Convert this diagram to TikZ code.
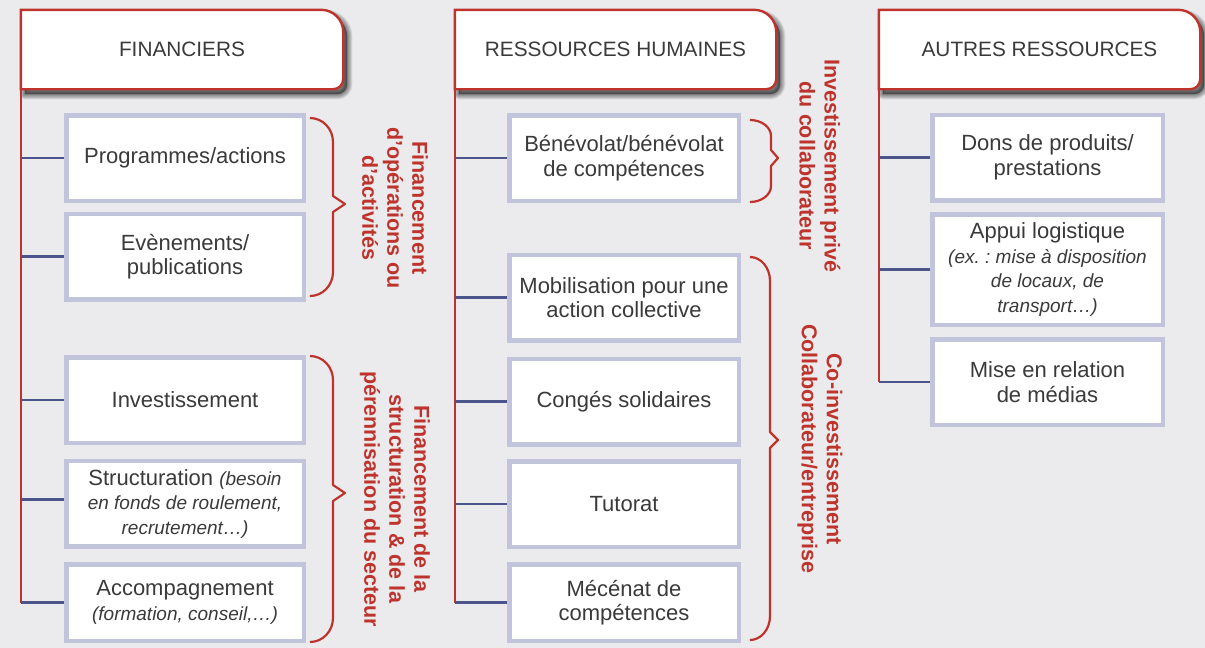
\documentclass[tikz,border=0pt]{standalone}
\usepackage{fontspec}
\setmainfont{Liberation Sans}
\usetikzlibrary{calc}
\frenchspacing

\definecolor{paper}{RGB}{235,235,238}
\definecolor{accent}{RGB}{190,52,44}
\definecolor{boxline}{RGB}{194,196,219}
\definecolor{stem}{RGB}{75,85,140}
\definecolor{ink}{RGB}{58,58,58}

\pgfdeclarelayer{back}
\pgfsetlayers{back,main}

% italic remark inside a box
\newcommand\aside[1]{{\itshape\fontsize{19}{23}\selectfont #1}}

% outline of a column header: sharp left corners, rounded right corners
\newcommand\hdrshape[3]{%
  ([shift={(#2,#3)}]#1.south west) -- ([shift={(#2,#3)}]#1.north west)
  -- ([shift={(#2-22,#3)}]#1.north east) arc[start angle=90,end angle=0,radius=22pt]
  -- ([shift={(#2,#3-10)}]#1.south east) arc[start angle=0,end angle=-90,radius=10pt]
  -- cycle}

% curly bracket: x0 x1 xtip ytop ymid ybot radius
\newcommand\curlybracket[7]{%
  \draw[brace] (#1,#4) .. controls ({#1+0.552*(#2-#1)},#4) and (#2,{#4+0.448*#7}) .. (#2,{#4+#7})
    -- (#2,{#5-8}) -- (#3,#5) -- (#2,{#5+8})
    -- (#2,{#6-#7}) .. controls (#2,{#6-0.448*#7}) and ({#1+0.552*(#2-#1)},#6) .. (#1,#6);}

\tikzset{
  hdr/.style={minimum width=322pt, minimum height=79pt, inner sep=0pt,
    font=\fontsize{20.8}{24}\selectfont, text=ink},
  item/.style={draw=boxline, line width=4.5pt, fill=white, inner sep=0pt,
    align=center, text=ink, font=\fontsize{22}{24.5}\selectfont},
  fitem/.style={item, minimum width=237.5pt, minimum height=85.5pt},
  ritem/.style={item, minimum width=229.5pt, minimum height=85.5pt},
  aitem/.style={item, minimum width=230.5pt, minimum height=85.5pt},
  trunk/.style={draw=accent, line width=2.2pt},
  twig/.style={draw=stem, line width=2.5pt},
  brace/.style={draw=accent, line width=2.2pt, line join=round},
  blabel/.style={rotate=-90, align=center, text=accent, inner sep=0pt,
    font=\bfseries\fontsize{21.5}{25}\selectfont},
  frame/.style={fill=white, draw=accent, line width=2.4pt},
}

\begin{document}
\begin{tikzpicture}[x=1pt,y=-1pt]
\useasboundingbox (0,0) rectangle (1205,648);

% column headers
\node[hdr] (fin) at (182,49.5) {FINANCIERS};
\node[hdr, minimum width=321pt] (rh) at (615.5,49.5) {RESSOURCES HUMAINES};
\node[hdr, minimum width=321pt] (aut) at (1039.5,49.5) {AUTRES RESSOURCES};

% financial support
\node[fitem] (f1) at (185,158) {Programmes/actions};
\node[fitem] (f2) at (185,256.5) {Evènements/\\publications};
\node[fitem] (f3) at (185,400) {Investissement};
\node[fitem] (f4) at (185,503.5) {Structuration \aside{(besoin}\\\aside{en fonds de roulement,}\\\aside{recrutement…)}};
\node[fitem, minimum height=76.5pt] (f5) at (185,602.5) {Accompagnement\\\aside{(formation, conseil,…)}};

% human resources
\node[ritem] (r1) at (624,158) {Bénévolat/bénévolat\\de compétences};
\node[ritem] (r2) at (624,297.5) {Mobilisation pour une\\action collective};
\node[ritem] (r3) at (624,401.5) {Congés solidaires};
\node[ritem] (r4) at (624,504) {Tutorat};
\node[ritem, minimum height=76.5pt] (r5) at (624,602.5) {Mécénat de\\compétences};

% other resources
\node[aitem] (a1) at (1047.5,157.5) {Dons de produits/\\prestations};
\node[aitem, minimum height=110.5pt] (a2) at (1047.5,269.5) {Appui logistique\\\aside{(ex. : mise à disposition}\\\aside{de locaux, de}\\\aside{transport…)}};
\node[aitem] (a3) at (1047.5,382) {Mise en relation\\de médias};

% bracket labels
\node[blabel] (l1) at (395,208) {Financement\\d’opérations ou\\d’activités};
\node[blabel] (l2) at (395,499) {Financement de la\\structuration \& de la\\pérennisation du secteur};
\node[blabel] (l3) at (820,166) {Investissement privé\\du collaborateur};
\node[blabel] (l4) at (820,449) {Co-investissement\\Collaborateur/entreprise};

% brackets
\curlybracket{310}{333}{345}{118}{204}{296}{24}
\curlybracket{310}{333}{345}{356}{493}{642}{24}
\curlybracket{750}{771}{778}{120}{158}{202}{16}
\curlybracket{750}{770}{778}{257}{440}{640}{24}

\begin{pgfonlayer}{back}
  \fill[paper] (0,0) rectangle (1205,648);
  % soft shadows and frames of the headers
  \foreach \h in {fin,rh,aut}{
    \foreach \w in {1,...,7}{
      \path[fill=black, draw=black, opacity=0.075, line width=\w*1.5pt, line join=round] \hdrshape{\h}{4}{5};
    }
    \path[frame] \hdrshape{\h}{0}{0};
  }
  % trunks
  \draw[trunk] (fin.south west) -- (fin.south west |- f5.west);
  \draw[trunk] (rh.south west) -- (rh.south west |- r5.west);
  \draw[trunk] (aut.south west) -- (aut.south west |- a3.west);
  % branches
  \foreach \b in {f1,f2,f3,f5}{ \draw[twig] (\b.west) -- (\b.west -| fin.south west); }
  \draw[twig] ([yshift=4pt]f4.west) -- ([yshift=4pt]f4.west -| fin.south west);
  \foreach \b in {r1,r2,r3,r4,r5}{ \draw[twig] (\b.west) -- (\b.west -| rh.south west); }
  \foreach \b in {a1,a2,a3}{ \draw[twig] (\b.west) -- (\b.west -| aut.south west); }
\end{pgfonlayer}
\end{tikzpicture}
\end{document}
